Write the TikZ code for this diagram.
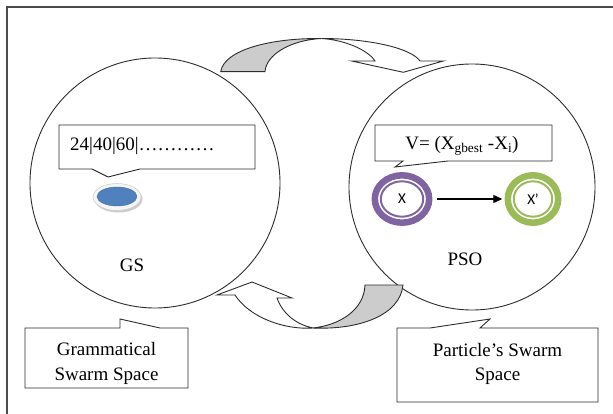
\documentclass[tikz,border=0pt]{standalone}
\usepackage{fontspec}
\setmainfont{Liberation Serif}
\newfontfamily\calibfont{Carlito}
\usetikzlibrary{arrows.meta,shapes.geometric}
\definecolor{ringpurple}{RGB}{128,100,162}
\definecolor{ringgreen}{RGB}{155,187,89}
\definecolor{discblue}{RGB}{79,129,189}
\definecolor{ribbongray}{RGB}{204,204,204}
\definecolor{linegray}{RGB}{45,45,45}
\begin{document}
\begin{tikzpicture}[x=1pt,y=-1pt,
  outline/.style={draw=linegray,line width=0.9pt},
  callout/.style={outline,fill=white,line join=miter},
  ribbon/.style={outline,line join=miter},
  txt/.style={font=\fontsize{19}{24.5}\selectfont,inner sep=0pt,align=center},
  ringlabel/.style={ellipse,minimum width=61pt,minimum height=54pt,inner sep=0pt,font=\calibfont\fontsize{15}{17}\selectfont},
  space/.style={circle,outline,inner sep=0pt}]
\useasboundingbox (0,0) rectangle (613,414);
\fill[white] (0,0) rectangle (613,414);
% frame
\draw[draw=gray!60!black,line width=1.2pt] (7,414) -- (7,7) -- (613,7);
% the two spaces
\node[space,minimum size=250pt] (gsc) at (155,183) {};
\node[space,minimum size=246pt] (psoc) at (472,187) {};
% top curved arrow
\filldraw[ribbon,fill=ribbongray] (220.7,71.7) .. controls (224,50) and (270,38) .. (321.7,38.5)
   .. controls (290,40) and (266,55) .. (265,71.7) -- cycle;
\filldraw[ribbon,fill=white] (321.7,38.5) .. controls (365,38.5) and (410,47) .. (420,61)
   -- (443.3,61) -- (403.3,72.3) -- (351.7,61) -- (375,61)
   .. controls (368,50) and (345,40) .. (321.7,38.5) -- cycle;
% bottom curved arrow
\filldraw[ribbon,fill=ribbongray] (365,285) -- (403,285) .. controls (400,315) and (360,330) .. (313,328)
   .. controls (340,325) and (364,310) .. (365,285) -- cycle;
\filldraw[ribbon,fill=white] (313,328) .. controls (285,330) and (250,318) .. (235,295)
   -- (217,295) -- (252,282) -- (292,298) -- (277,298)
   .. controls (283,315) and (298,325) .. (313,328) -- cycle;
% callouts
\filldraw[callout] (59,125) -- (255,125) -- (255,169) -- (140,169) -- (108,177) -- (92,169) -- (59,169) -- cycle;
\node[txt,anchor=base west] (seq) at (70,150.5) {24|40|60|…………};
\filldraw[callout] (375,125) -- (552,125) -- (552,161) -- (448,161) -- (395,167) -- (403,161) -- (375,161) -- cycle;
\node[txt,anchor=base] (vel) at (462,149.5) {V= (X\textsubscript{gbest} -X\textsubscript{i})};
\filldraw[callout] (25,328) -- (120,328) -- (120,319) -- (160,328) -- (188,328) -- (188,388) -- (25,388) -- cycle;
\node[txt] (gss) at (106.5,363.5) {Grammatical\\Swarm Space};
\filldraw[callout] (397,328) -- (430,328) -- (490,319) -- (480,328) -- (598,328) -- (598,402) -- (397,402) -- cycle;
\node[txt] (pss) at (497.5,364) {Particle’s Swarm\\Space};
% labels
\node[txt,anchor=base] (gs) at (132,271) {GS};
\node[txt,anchor=base] (pso) at (465,265.5) {PSO};
% disc
\fill[gray!40] (118.5,199) ellipse [x radius=24pt,y radius=13.5pt];
\filldraw[fill=gray!8,draw=gray!40,line width=0.5pt] (117,197) ellipse [x radius=24pt,y radius=13.5pt];
\filldraw[fill=discblue,draw=discblue!85!black,line width=0.4pt] (117,196.5) ellipse [x radius=20pt,y radius=9.5pt];
% rings
\node[ringlabel] (X) at (402,199) {X};
\draw[ringpurple,line width=6.5pt] (X.center) ellipse [x radius=27.2pt,y radius=23.7pt];
\draw[ringpurple,line width=2pt] (X.center) ellipse [x radius=21.2pt,y radius=17.7pt];
\node[ringlabel,minimum width=57pt] (Xp) at (533,199) {X’};
\draw[ringgreen,line width=6.5pt] (Xp.center) ellipse [x radius=25.2pt,y radius=23.7pt];
\draw[ringgreen,line width=2pt] (Xp.center) ellipse [x radius=19.2pt,y radius=17.7pt];
\draw[line width=1.2pt,-{Triangle[length=9pt,width=8pt]},shorten <=4.5pt,shorten >=2pt] (X) -- (Xp);
\end{tikzpicture}
\end{document}
